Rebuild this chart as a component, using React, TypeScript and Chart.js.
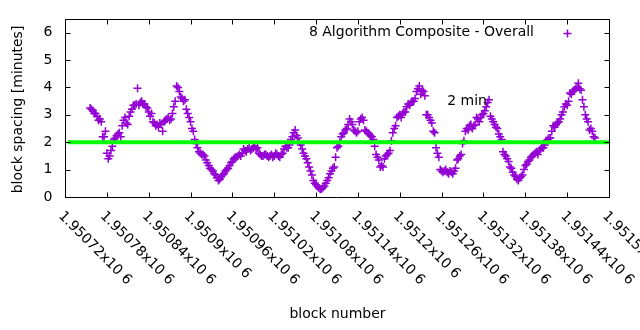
import React, { useEffect, useRef } from 'react';
import { Chart, registerables } from 'chart.js';

Chart.register(...registerables);

// ---- data ----
const firstBlock = 1950756;
const blockStep = 4;
// readings at blocks firstBlock + 4*i
const spacingA = [
  3.25, 3.15, 3.05, 2.8, 2.75, 2.2, 1.6, 1.5, 1.85, 2.15,
  2.3, 2.2, 2.8, 2.7, 2.95, 3.2, 3.35, 3.97, 3.45, 3.4,
  3.3, 3.1, 3.05, 2.7, 2.65, 2.7, 2.4, 2.8, 2.9, 2.85,
  3.3, 4.05, 3.85, 3.6, 3.55, 3.05, 2.75, 2.4, 1.95, 1.65,
  1.55, 1.5, 1.25, 1.05, 0.95, 0.8, 0.6, 0.75, 0.85, 1.0,
  1.15, 1.3, 1.45, 1.5, 1.5, 1.75, 1.65, 1.8, 1.75, 1.85,
  1.8, 1.55, 1.5, 1.55, 1.45, 1.55, 1.5, 1.55, 1.45, 1.6,
  1.85, 1.8, 2.1, 2.35, 2.25, 2.0, 1.75, 1.5, 1.25, 0.95,
  0.6, 0.45, 0.33, 0.3, 0.4, 0.6, 0.85, 1.05, 1.45, 1.85,
  2.2, 2.35, 2.5, 2.85, 2.65, 2.4, 2.4, 2.85, 2.8, 2.4,
  2.3, 2.2, 1.85, 1.45, 1.1, 1.1, 1.5, 1.6, 2.05, 2.5,
  2.9, 3.0, 3.05, 3.1, 3.4, 3.45, 3.5, 3.85, 4.05, 3.9,
  3.7, 3.0, 2.8, 2.4, 1.8, 1.45, 0.95, 0.95, 0.9, 0.95,
  0.85, 1.05, 1.4, 1.55, 2.05, 2.5, 2.6, 2.5, 2.65, 2.85,
  2.9, 3.05, 3.3, 3.55, 2.85, 2.65, 2.5, 2.2, 1.65, 1.5,
  1.3, 1.05, 0.8, 0.65, 0.7, 0.8, 1.15, 1.3, 1.45, 1.55,
  1.65, 1.7, 1.8, 1.9, 2.1, 2.15, 2.6, 2.65, 2.75, 3.0,
  3.3, 3.35, 3.8, 3.85, 3.95, 4.15, 3.9, 3.3, 2.85, 2.45,
  2.4, 2.15,
];
// readings at blocks firstBlock + 2 + 4*i
const spacingB = [
  3.2, 3.05, 2.95, 2.85, 2.2, 2.4, 1.4, 1.7, 2.1, 2.25,
  2.35, 2.6, 2.9, 2.65, 3.1, 3.35, 3.4, 3.35, 3.5, 3.4,
  3.25, 2.95, 2.75, 2.6, 2.55, 2.65, 2.75, 2.85, 2.8, 3.05,
  3.5, 4.0, 3.65, 3.5, 3.2, 2.9, 2.5, 2.1, 1.8, 1.6,
  1.55, 1.35, 1.15, 1.0, 0.85, 0.7, 0.65, 0.8, 0.95, 1.05,
  1.25, 1.4, 1.45, 1.55, 1.6, 1.7, 1.75, 1.7, 1.8, 1.75,
  1.6, 1.5, 1.55, 1.5, 1.5, 1.45, 1.6, 1.5, 1.55, 1.75,
  1.8, 1.9, 2.2, 2.45, 2.15, 1.9, 1.6, 1.4, 1.1, 0.8,
  0.5, 0.38, 0.28, 0.35, 0.5, 0.7, 0.95, 1.1, 1.8, 2.0,
  2.3, 2.45, 2.65, 2.75, 2.45, 2.35, 2.75, 2.9, 2.45, 2.35,
  2.25, 2.1, 1.55, 1.35, 1.15, 1.4, 1.55, 1.7, 2.35, 2.6,
  2.95, 2.9, 3.1, 3.3, 3.35, 3.5, 3.6, 3.95, 3.75, 3.85,
  3.0, 2.9, 2.7, 2.35, 1.6, 1.0, 0.9, 1.0, 0.85, 0.9,
  0.95, 1.35, 1.5, 1.95, 2.4, 2.45, 2.65, 2.6, 2.9, 2.75,
  3.0, 3.15, 3.45, 2.95, 2.75, 2.55, 2.3, 2.1, 1.55, 1.4,
  1.1, 0.9, 0.75, 0.6, 0.75, 1.0, 1.2, 1.35, 1.5, 1.6,
  1.55, 1.75, 1.8, 2.05, 2.15, 2.4, 2.55, 2.7, 2.85, 3.1,
  3.4, 3.5, 3.75, 3.9, 4.0, 3.95, 3.55, 3.0, 2.75, 2.5,
  2.2,
];
const pointsA = spacingA.map((v, i) => ({ x: firstBlock + i * blockStep, y: v }));
const pointsB = spacingB.map((v, i) => ({ x: firstBlock + 2 + i * blockStep, y: v }));

const targetMinutes = 2;
const targetStart = 1950724;
const targetEnd = 1951500;

const xMin = 1950720;
const xMax = 1951500;
const xTicks = [
  1950720, 1950780, 1950840, 1950900, 1950960, 1951020, 1951080,
  1951140, 1951200, 1951260, 1951320, 1951380, 1951440, 1951500,
];
const xTickLabels = [
  '1.95072x10 6', '1.95078x10 6', '1.95084x10 6', '1.9509x10 6',
  '1.95096x10 6', '1.95102x10 6', '1.95108x10 6', '1.95114x10 6',
  '1.9512x10 6', '1.95126x10 6', '1.95132x10 6', '1.95138x10 6',
  '1.95144x10 6', '1.9515x10 6',
];
const yMin = 0;
const yMax = 6.5;
const yTicks = [0, 1, 2, 3, 4, 5, 6];

const seriesName = '8 Algorithm Composite - Overall';
const labelText = '2 min';
const labelBlock = 1951268;
const labelValue = 3.5;
const xTitle = 'block number';
const yTitle = 'block spacing [minutes]';

const PURPLE = '#9400d3';
const GREEN = '#00ff00';
const FONT = '14px "DejaVu Sans"';

const framePlugin = {
  id: 'gnuplotFrame',
  afterDraw(chart: any) {
    const { ctx, chartArea } = chart;
    const xs = chart.scales.x;
    const ys = chart.scales.y;
    const L = Math.round(chartArea.left) + 0.5;
    const R = Math.round(chartArea.right) + 0.5;
    const T = Math.round(chartArea.top) + 0.5;
    const B = Math.round(chartArea.bottom) + 0.5;
    const tick = 5;
    ctx.save();
    ctx.strokeStyle = '#000';
    ctx.lineWidth = 1;
    ctx.beginPath();
    ctx.rect(L, T, R - L, B - T);
    xTicks.forEach((v) => {
      const px = Math.round(xs.getPixelForValue(v)) + 0.5;
      ctx.moveTo(px, B);
      ctx.lineTo(px, B - tick);
      ctx.moveTo(px, T);
      ctx.lineTo(px, T + tick);
    });
    yTicks.forEach((v) => {
      const py = Math.round(ys.getPixelForValue(v)) + 0.5;
      ctx.moveTo(L, py);
      ctx.lineTo(L + tick, py);
      ctx.moveTo(R, py);
      ctx.lineTo(R - tick, py);
    });
    ctx.stroke();

    ctx.fillStyle = '#000';
    ctx.font = FONT;
    ctx.textAlign = 'right';
    ctx.textBaseline = 'middle';
    yTicks.forEach((v) => {
      ctx.fillText(String(v), L - 13, ys.getPixelForValue(v));
    });
    ctx.textAlign = 'left';
    ctx.textBaseline = 'alphabetic';
    xTicks.forEach((v, i) => {
      const px = xs.getPixelForValue(v);
      ctx.save();
      ctx.translate(px - 7, B + 19);
      ctx.rotate(Math.PI / 4);
      ctx.fillText(xTickLabels[i], 0, 0);
      ctx.restore();
    });
    ctx.textAlign = 'center';
    ctx.textBaseline = 'alphabetic';
    ctx.fillText(xTitle, (L + R) / 2, 318);
    ctx.save();
    ctx.translate(22, 109.5);
    ctx.rotate(-Math.PI / 2);
    ctx.fillText(yTitle, 0, 0);
    ctx.restore();
    ctx.textAlign = 'right';
    ctx.textBaseline = 'middle';
    ctx.fillText(seriesName, 534, 32);
    ctx.strokeStyle = PURPLE;
    ctx.lineWidth = 1.5;
    ctx.beginPath();
    ctx.moveTo(563.5, 33.5);
    ctx.lineTo(571.5, 33.5);
    ctx.moveTo(567.5, 29.5);
    ctx.lineTo(567.5, 37.5);
    ctx.stroke();
    ctx.fillStyle = '#000';
    ctx.textAlign = 'left';
    ctx.textBaseline = 'middle';
    ctx.fillText(labelText, xs.getPixelForValue(labelBlock), ys.getPixelForValue(labelValue));
    ctx.restore();
  },
};

export default function App() {
  const ref = useRef<HTMLCanvasElement | null>(null);
  useEffect(() => {
    if (!ref.current) return;
    const chart = new Chart(ref.current, {
      type: 'scatter',
      data: {
        datasets: [
          {
            type: 'line',
            label: 'target',
            data: [
              { x: targetStart, y: targetMinutes },
              { x: targetEnd, y: targetMinutes },
            ],
            borderColor: GREEN,
            borderWidth: 4,
            pointRadius: 0,
            fill: false,
          } as any,
          {
            label: seriesName,
            data: [...pointsA, ...pointsB],
            pointStyle: 'cross',
            pointRadius: 4,
            borderColor: PURPLE,
            backgroundColor: PURPLE,
            borderWidth: 1.5,
          },
        ],
      },
      options: {
        animation: false,
        responsive: false,
        devicePixelRatio: 1,
        layout: { padding: { left: 65, right: 31, top: 19, bottom: 133 } },
        plugins: { legend: { display: false }, tooltip: { enabled: false } },
        scales: {
          x: { type: 'linear', min: xMin, max: xMax, display: false },
          y: { type: 'linear', min: yMin, max: yMax, display: false },
        },
      },
      plugins: [framePlugin],
    });
    return () => chart.destroy();
  }, []);
  return (
    <div style={{ position: 'fixed', left: 0, top: 0, width: 640, height: 330, background: '#fff' }}>
      <canvas ref={ref} width={640} height={330} />
    </div>
  );
}
